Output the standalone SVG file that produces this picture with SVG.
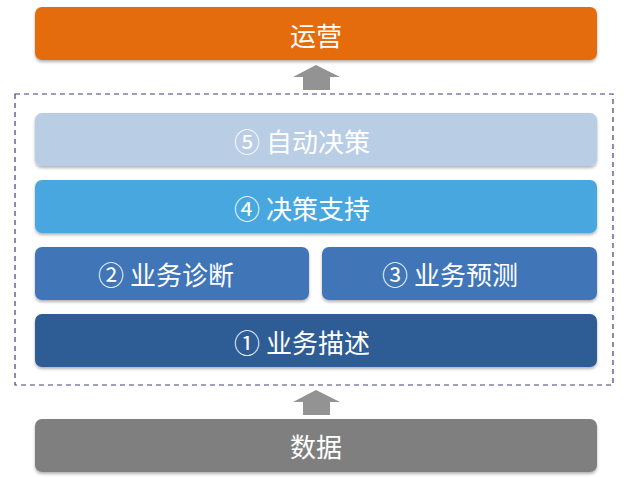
<svg xmlns="http://www.w3.org/2000/svg" width="629" height="478" viewBox="0 0 629 478">
<defs>
<filter id="sh" x="-5%" y="-20%" width="110%" height="150%">
<feDropShadow dx="0" dy="2" stdDeviation="1.5" flood-color="#000" flood-opacity="0.3"/>
</filter>
<style>
.lbl{font-family:"Noto Sans CJK SC","Noto Sans",sans-serif;font-size:26px;fill:#fff;text-anchor:middle;dominant-baseline:central}
.box{filter:url(#sh)}
.arr{fill:#939393}
</style>
</defs>
<rect width="629" height="478" fill="#fff"/>
<g id="ops"><rect class="box" x="35" y="7" width="562" height="53" rx="7" fill="#e46c0a"/><text class="lbl" x="316" y="34">运营</text></g>
<g id="connectors">
<path class="arr" d="M316 65 L340 77 L330 77 L330 90 L303 90 L303 77 L293 77 Z"/>
<path class="arr" d="M316 390 L340 402 L330 402 L330 415 L303 415 L303 402 L293 402 Z"/>
</g>
<g id="analytics">
<rect x="15" y="94" width="598" height="291" fill="none" stroke="#3f3f7f" stroke-width="1.2" stroke-dasharray="5,4"/>
</g>
<g id="auto"><rect class="box" x="35" y="113" width="562" height="53" rx="7" fill="#b9cde5"/><text class="lbl" x="302" y="140">⑤ 自动决策</text></g>
<g id="support"><rect class="box" x="35" y="180" width="562" height="53" rx="7" fill="#47a7de"/><text class="lbl" x="302" y="207">④ 决策支持</text></g>
<g id="diag"><rect class="box" x="35" y="247" width="274" height="53" rx="7" fill="#3f75b8"/><text class="lbl" x="166" y="273">② 业务诊断</text></g>
<g id="pred"><rect class="box" x="322" y="247" width="275" height="53" rx="7" fill="#3f75b8"/><text class="lbl" x="450" y="273">③ 业务预测</text></g>
<g id="desc"><rect class="box" x="35" y="314" width="562" height="53" rx="7" fill="#2f5b94"/><text class="lbl" x="302" y="341">① 业务描述</text></g>
<g id="data"><rect class="box" x="35" y="419" width="562" height="53" rx="7" fill="#7f7f7f"/><text class="lbl" x="316" y="445">数据</text></g>
</svg>
